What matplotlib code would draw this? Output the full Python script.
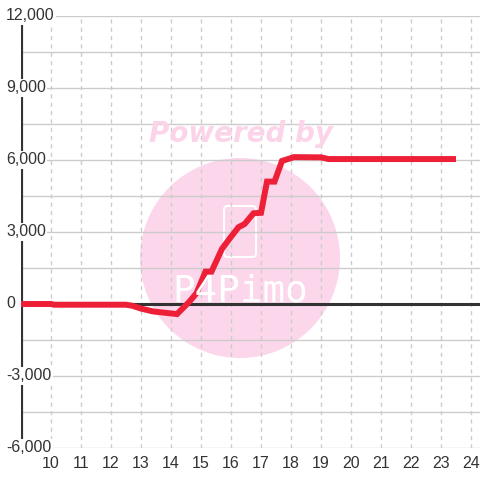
import matplotlib.pyplot as plt
import matplotlib.transforms as mtransforms
import numpy as np
from matplotlib.patches import Circle, FancyBboxPatch

# 数据
hours = [9.0, 10.0, 10.1, 12.5, 12.7, 13.0, 13.4, 14.2, 14.6, 14.85, 15.15, 15.35,
         15.7, 16.0, 16.25, 16.45, 16.75, 17.0, 17.2, 17.45, 17.7, 18.1, 19.0, 19.25, 23.5]
values = [0, 0, -30, -30, -70, -190, -310, -420, 80, 450, 1350, 1350,
          2300, 2800, 3200, 3330, 3780, 3800, 5100, 5100, 5960, 6120, 6110, 6040, 6040]
y_major = [12000, 9000, 6000, 3000, 0, -3000, -6000]
y_labels = ['12,000', '9,000', '6,000', '3,000', '0', '-3,000', '-6,000']
x_ticks = list(range(10, 25))

plt.rcParams['font.family'] = ['Liberation Sans', 'DejaVu Sans']

fig = plt.figure(figsize=(4.8, 4.8), dpi=100)
fig.patch.set_facecolor('white')
ax = fig.add_axes([21 / 480, 32 / 480, 459 / 480, 432 / 480])
ax.patch.set_visible(False)
ax.set_xlim(9, 24.3)
ax.set_ylim(-6000, 12000)
for s in ax.spines.values():
    s.set_visible(False)

# 网格
ax.set_axisbelow(True)
ax.set_yticks(np.arange(-6000, 12001, 1500))
ax.set_yticklabels([])
ax.set_xticks(x_ticks)
ax.set_xticklabels([str(t) for t in x_ticks], fontsize=11.5, color='#333333')
ax.tick_params(axis='both', length=0)
ax.tick_params(axis='x', pad=6)
ax.grid(axis='y', color='#cccccc', linewidth=1)
ax.grid(axis='x', color='#cccccc', linewidth=1, linestyle=(0, (3, 3)))

# 水印
ax.add_patch(Circle((240 / 480, 1 - 258 / 480), 100 / 480, transform=fig.transFigure,
                    facecolor='#fcd6ea', edgecolor='none', zorder=0.1, clip_on=False))
ax.add_patch(FancyBboxPatch((224 / 480, 1 - 257 / 480), 32 / 480, 51 / 480,
                            boxstyle='round,pad=0,rounding_size=0.008', transform=fig.transFigure,
                            facecolor='none', edgecolor='white', linewidth=1.5, zorder=0.2, clip_on=False))
fig.text(240 / 480, 1 - 291 / 480, 'P4Pimo', fontsize=27, color='white', ha='center', va='center',
         family='DejaVu Sans Mono', zorder=0.2)
fig.text(241 / 480, 1 - 134 / 480, 'Powered by', fontsize=20, color='#fcd4ea', ha='center', va='center',
         family='DejaVu Sans', fontweight='bold', fontstyle='italic', zorder=2)

# 坐标轴线
ax.axvline(9, color='#333333', linewidth=3, zorder=3)
ax.axhline(0, color='#333333', linewidth=2.2, zorder=3)

# y轴标签
trans = mtransforms.blended_transform_factory(fig.transFigure, ax.transData)
for v, lab in zip(y_major, y_labels):
    ax.text(6 / 480, v, lab, transform=trans, ha='left', va='center', fontsize=11.5, color='#333333',
            clip_on=False, bbox=dict(facecolor='white', edgecolor='none', pad=1), zorder=4)

ax.plot(hours, values, color='#ee2038', linewidth=4.3, solid_joinstyle='miter',
        solid_capstyle='butt', zorder=5, clip_on=False)

plt.savefig('out.png', dpi=100)
